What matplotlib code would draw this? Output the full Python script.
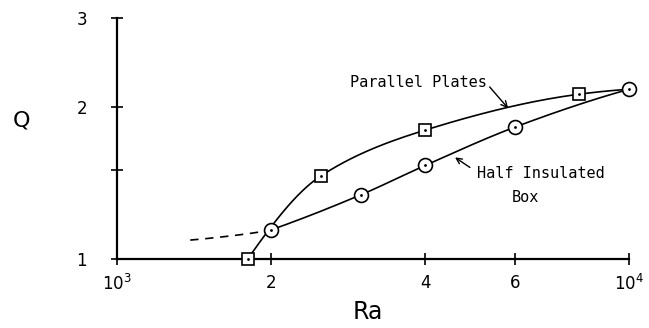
import numpy as np
import matplotlib
matplotlib.use('Agg')
import matplotlib.pyplot as plt
from matplotlib.ticker import FixedLocator, FixedFormatter, NullLocator

# values
plates_ra = [1800, 2500, 4000, 8000, 10000]
plates_q = [1.00, 1.46, 1.80, 2.12, 2.168]
plates_marker_ra = [1800, 2500, 4000, 8000]
plates_marker_q = [1.00, 1.46, 1.80, 2.12]

box_ra = [2000, 3000, 4000, 6000, 10000]
box_q = [1.142, 1.341, 1.532, 1.826, 2.168]

box_dashed_ra = [1390, 1630, 1920, 2000]
box_dashed_q = [1.090, 1.108, 1.133, 1.142]

x_ticks = [1000, 2000, 4000, 6000, 10000]
x_tick_labels = ['$10^3$', '2', '4', '6', '$10^4$']
y_ticks = [1, 1.5, 2, 3]
y_tick_labels = ['1', '', '2', '3']


def smooth(xs, ys, n=60):
    # monotone cubic (pchip) through the points, in log-log space
    x = np.log10(xs)
    y = np.log10(ys)
    h = np.diff(x)
    d = np.diff(y) / h
    m = np.zeros(len(x))
    for k in range(1, len(x) - 1):
        if d[k - 1] * d[k] > 0:
            w1 = 2 * h[k] + h[k - 1]
            w2 = h[k] + 2 * h[k - 1]
            m[k] = (w1 + w2) / (w1 / d[k - 1] + w2 / d[k])
    def end_slope(h0, h1, d0, d1):
        s = ((2 * h0 + h1) * d0 - h0 * d1) / (h0 + h1)
        if np.sign(s) != np.sign(d0):
            s = 0.0
        elif np.sign(d0) != np.sign(d1) and abs(s) > abs(3 * d0):
            s = 3 * d0
        return s
    if len(x) > 2:
        m[0] = end_slope(h[0], h[1], d[0], d[1])
        m[-1] = end_slope(h[-1], h[-2], d[-1], d[-2])
    else:
        m[:] = d[0]
    out_x, out_y = [], []
    t = np.linspace(0, 1, n)
    for k in range(len(x) - 1):
        h00 = 2 * t ** 3 - 3 * t ** 2 + 1
        h10 = t ** 3 - 2 * t ** 2 + t
        h01 = -2 * t ** 3 + 3 * t ** 2
        h11 = t ** 3 - t ** 2
        out_x.extend(x[k] + t * h[k])
        out_y.extend(h00 * y[k] + h10 * h[k] * m[k] + h01 * y[k + 1]
                     + h11 * h[k] * m[k + 1])
    return 10 ** np.array(out_x), 10 ** np.array(out_y)


fig = plt.figure(figsize=(6.49, 3.28), dpi=100)
ax = fig.add_axes([0.1803, 0.2104, 0.7889, 0.7347])

ax.set_xscale('log')
ax.set_yscale('log')
ax.set_xlim(1000, 10000)
ax.set_ylim(1, 3)

sx, sy = smooth(plates_ra, plates_q)
ax.plot(sx, sy, color='black', lw=1.2)
sx, sy = smooth(box_ra, box_q)
ax.plot(sx, sy, color='black', lw=1.2)
sx, sy = smooth(box_dashed_ra, box_dashed_q)
ax.plot(sx, sy, color='black', lw=1.2, ls=(0, (5, 4)))

ax.plot(plates_marker_ra, plates_marker_q, 's', ms=9, mfc='white', mec='black',
        mew=1.2, clip_on=False, zorder=5)
ax.plot(box_ra, box_q, 'o', ms=10, mfc='white', mec='black', mew=1.2,
        clip_on=False, zorder=5)
ax.plot(plates_marker_ra + box_ra, plates_marker_q + box_q, '.', ms=2,
        color='black', clip_on=False, zorder=6)

mono = 'DejaVu Sans Mono'
ax.annotate('Parallel Plates', xy=(5808, 1.987), xytext=(2851, 2.239),
            fontsize=11, family=mono, ha='left', va='center',
            arrowprops=dict(arrowstyle='->', color='black', lw=1.0,
                            shrinkA=0, shrinkB=0, relpos=(1.0, 0.4)))
ax.annotate('', xy=(4573, 1.589), xytext=(4889, 1.518),
            arrowprops=dict(arrowstyle='->', color='black', lw=1.0,
                            shrinkA=0, shrinkB=0))
ax.text(5053, 1.477, 'Half Insulated', fontsize=11, family=mono,
        ha='left', va='center')
ax.text(5906, 1.323, 'Box', fontsize=11, family=mono, ha='left', va='center')

for side in ('top', 'right'):
    ax.spines[side].set_visible(False)
for side in ('left', 'bottom'):
    ax.spines[side].set_linewidth(1.6)

ax.xaxis.set_major_locator(FixedLocator(x_ticks))
ax.xaxis.set_major_formatter(FixedFormatter(x_tick_labels))
ax.xaxis.set_minor_locator(NullLocator())
ax.yaxis.set_major_locator(FixedLocator(y_ticks))
ax.yaxis.set_major_formatter(FixedFormatter(y_tick_labels))
ax.yaxis.set_minor_locator(NullLocator())
ax.tick_params(axis='both', direction='inout', length=9, width=1.2,
               labelsize=12)
ax.tick_params(axis='x', pad=6)
ax.tick_params(axis='y', pad=17)

ax.set_xlabel('Ra', fontsize=17, va='center')
ax.set_ylabel('Q', fontsize=16, rotation=0, va='center', ha='center')
ax.xaxis.set_label_coords(0.49, -0.22)
ax.yaxis.set_label_coords(-0.1875, 0.575)

fig.savefig('out.png', dpi=100)
